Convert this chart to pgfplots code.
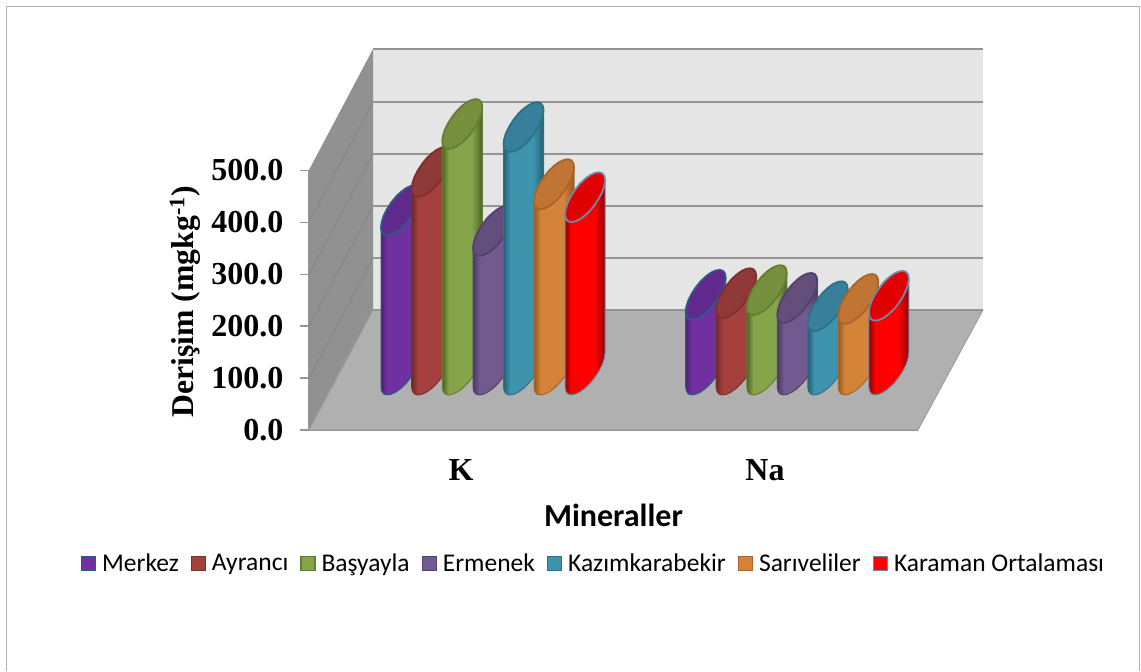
\documentclass[border=0pt]{standalone}
\usepackage{fontspec}
\setmainfont{Liberation Serif}
\newfontfamily\carlito{Carlito}
\usepackage{pgfplots}
\usepackage{pgfplotstable}
\pgfplotsset{compat=1.18}

% colours: main body, edge, cap, outline
\definecolor{bMerkez}{HTML}{7030A0}\definecolor{dMerkez}{HTML}{4E2270}\definecolor{cMerkez}{HTML}{5F2A8C}\definecolor{lMerkez}{HTML}{2C5A8A}
\definecolor{bAyranci}{HTML}{A5403C}\definecolor{dAyranci}{HTML}{6E2A28}\definecolor{cAyranci}{HTML}{8F3A38}\definecolor{lAyranci}{HTML}{7F302D}
\definecolor{bBasyayla}{HTML}{86A44A}\definecolor{dBasyayla}{HTML}{4F6228}\definecolor{cBasyayla}{HTML}{779040}\definecolor{lBasyayla}{HTML}{627F32}
\definecolor{bErmenek}{HTML}{705A90}\definecolor{dErmenek}{HTML}{4A3B60}\definecolor{cErmenek}{HTML}{644F7C}\definecolor{lErmenek}{HTML}{54406E}
\definecolor{bKazim}{HTML}{3E93AD}\definecolor{dKazim}{HTML}{245F73}\definecolor{cKazim}{HTML}{377F9A}\definecolor{lKazim}{HTML}{2E7186}
\definecolor{bSari}{HTML}{D58339}\definecolor{dSari}{HTML}{95591F}\definecolor{cSari}{HTML}{C07535}\definecolor{lSari}{HTML}{A8652A}
\definecolor{bKaraman}{HTML}{FF0000}\definecolor{dKaraman}{HTML}{900000}\definecolor{cKaraman}{HTML}{E00000}\definecolor{lKaraman}{HTML}{7088A8}

\newcommand{\declshade}[1]{\pgfdeclarehorizontalshading{sh#1}{100bp}{color(0bp)=(d#1);color(25bp)=(d#1);color(33bp)=(b#1);color(62bp)=(b#1);color(75bp)=(d#1);color(100bp)=(d#1)}}
\declshade{Merkez}\declshade{Ayranci}\declshade{Basyayla}\declshade{Ermenek}\declshade{Kazim}\declshade{Sari}\declshade{Karaman}

% cylinder outline, offsets in pixels from the left edge and the lowest point
\pgfplotstableread{
dx up top
0 8 1
0 8 0
0.7 3.9 0
2.7 1.1 0
5.9 0.1 0
10 0.7 0
14.8 2.9 0
20 6.7 0
25.2 11.7 0
30 17.7 0
34.1 24.1 0
37.3 30.5 0
39.3 36.7 0
40 42 0
40 42 1
0 8 1
}\bodyshape
\pgfplotstableread{
dx up
40 42
39.3 46.2
37.3 48.9
34.1 49.9
30 49.3
25.2 47.1
20 43.3
14.8 38.3
10 32.3
5.9 25.9
2.7 19.5
0.7 13.3
0 8
0.7 3.9
2.7 1.1
5.9 0.1
10 0.7
14.8 2.9
20 6.7
25.2 11.7
30 17.7
34.1 24.1
37.3 30.5
39.3 36.7
40 42
}\capshape

% \cyl{left edge}{value}{series}
\newcommand{\cyl}[3]{%
  \addplot[forget plot,draw=l#3,line width=1pt,line join=round,shade,shading=sh#3]
    table[x expr=#1+\thisrow{dx},y expr=67.4+\thisrow{top}*#2+\thisrow{up}/0.519] {\bodyshape};
  \addplot[forget plot,draw=l#3,line width=1.8pt,line join=round,fill=c#3]
    table[x expr=#1+\thisrow{dx},y expr=67.4+#2+\thisrow{up}/0.519] {\capshape};
}
% shapes given in picture pixels
\pgfplotsset{table/pix/.style={x=px,y expr=(430-\thisrow{py})/0.519}}

\begin{document}
\begin{tikzpicture}
\begin{axis}[
    width=609pt, height=259.5pt, scale only axis,
    xmin=309, xmax=918, ymin=0, ymax=500,
    clip=false,
    axis x line=bottom, axis y line=left,
    axis line style={-,draw=black!42,line width=1.6pt},
    xtick={461,765}, xticklabels={K,Na},
    x tick style={draw=none},
    xticklabel style={yshift=-17pt},
    ytick={0,100,200,300,400,500},
    y tick style={draw=black!42,line width=1.4pt},
    tick align=outside, major tick length=9pt,
    yticklabel style={xshift=-13pt},
    ticklabel style={font=\bfseries\fontsize{32}{36}\selectfont},
    yticklabel style={/pgf/number format/fixed,/pgf/number format/fixed zerofill,
      /pgf/number format/precision=1,/pgf/number format/assume math mode=true},
    xlabel={\carlito\bfseries\fontsize{32}{36}\selectfont Mineraller},
    every axis x label/.style={at={(axis cs:613.5,-165)},anchor=center},
    ylabel={\bfseries\fontsize{31.7}{36}\selectfont Derişim (mgkg\textsuperscript{-1})},
    every axis y label/.style={at={(axis cs:185,247)},anchor=center,rotate=90},
    legend columns=-1,
    legend style={at={(axis cs:593.5,-257)},anchor=center,draw=none,fill=none,
      font=\carlito\fontsize{25.5}{30}\selectfont,
      /tikz/every even column/.append style={column sep=10pt},
      /tikz/every odd column/.append style={column sep=4pt}},
    legend image code/.code={\draw[#1,line width=1.2pt] (0pt,-7pt) rectangle (14pt,7pt);},
  ]
  % page and outer frame
  \addplot[forget plot,draw=none] table[pix] {
    px py
    0 0
    1141 0
    1141 671
    0 671
    0 0
  };
  \addplot[forget plot,draw=black!30,line width=1pt] table[pix] {
    px py
    6.5 671
    6.5 7
    1139 7
    1139 671
  };
  % back wall
  \addplot[forget plot,draw=none,fill=black!10] table[pix] {
    px py
    373 49
    983 49
    983 310
    373 310
    373 49
  };
  % side wall
  \addplot[forget plot,draw=none,fill=black!43] table[pix] {
    px py
    309 430
    373 310
    373 49
    309 170
    309 430
  };
  % floor
  \addplot[forget plot,draw=black!40,line width=0.8pt,fill=black!31] table[pix] {
    px py
    309 430
    373 310
    983 310
    918 430
    309 430
  };
  % grid on the walls
  \addplot[forget plot,draw=black!50,line width=0.6pt] table[pix] {
    px py
    309 378
    373 258
  };
  \addplot[forget plot,draw=black!50,line width=0.6pt] table[pix] {
    px py
    309 326
    373 206
  };
  \addplot[forget plot,draw=black!50,line width=0.6pt] table[pix] {
    px py
    309 274
    373 154
  };
  \addplot[forget plot,draw=black!50,line width=0.6pt] table[pix] {
    px py
    309 222
    373 102
  };
  \addplot[forget plot,draw=black!42,line width=2pt] table[pix] {
    px py
    373 258
    983 258
  };
  \addplot[forget plot,draw=black!42,line width=2pt] table[pix] {
    px py
    373 206
    983 206
  };
  \addplot[forget plot,draw=black!42,line width=2pt] table[pix] {
    px py
    373 154
    983 154
  };
  \addplot[forget plot,draw=black!42,line width=2pt] table[pix] {
    px py
    373 102
    983 102
  };
  \addplot[forget plot,draw=black!42,line width=2pt] table[pix] {
    px py
    373 49
    983 49
  };
  \addplot[forget plot,draw=black!42,line width=2pt] table[pix] {
    px py
    373 310
    983 310
  };
  % K
  \cyl{381}{308}{Merkez}
  \cyl{411.7}{382}{Ayranci}
  \cyl{442.3}{474}{Basyayla}
  \cyl{473}{268}{Ermenek}
  \cyl{503.5}{468}{Kazim}
  \cyl{534}{358}{Sari}
  \cyl{565}{333}{Karaman}
  % Na
  \cyl{685.7}{145}{Merkez}
  \cyl{716.2}{148}{Ayranci}
  \cyl{746.8}{154}{Basyayla}
  \cyl{777.3}{139}{Ermenek}
  \cyl{807.8}{123}{Kazim}
  \cyl{838.3}{137}{Sari}
  \cyl{868.8}{143}{Karaman}
  % legend
  \addlegendimage{draw=lMerkez,fill=bMerkez}\addlegendentry{Merkez}
  \addlegendimage{draw=lAyranci,fill=bAyranci}\addlegendentry{Ayrancı}
  \addlegendimage{draw=lBasyayla,fill=bBasyayla}\addlegendentry{Başyayla}
  \addlegendimage{draw=lErmenek,fill=bErmenek}\addlegendentry{Ermenek}
  \addlegendimage{draw=lKazim,fill=bKazim}\addlegendentry{Kazımkarabekir}
  \addlegendimage{draw=lSari,fill=bSari}\addlegendentry{Sarıveliler}
  \addlegendimage{draw=lKaraman,fill=bKaraman}\addlegendentry{Karaman Ortalaması}
\end{axis}
\end{tikzpicture}
\end{document}
